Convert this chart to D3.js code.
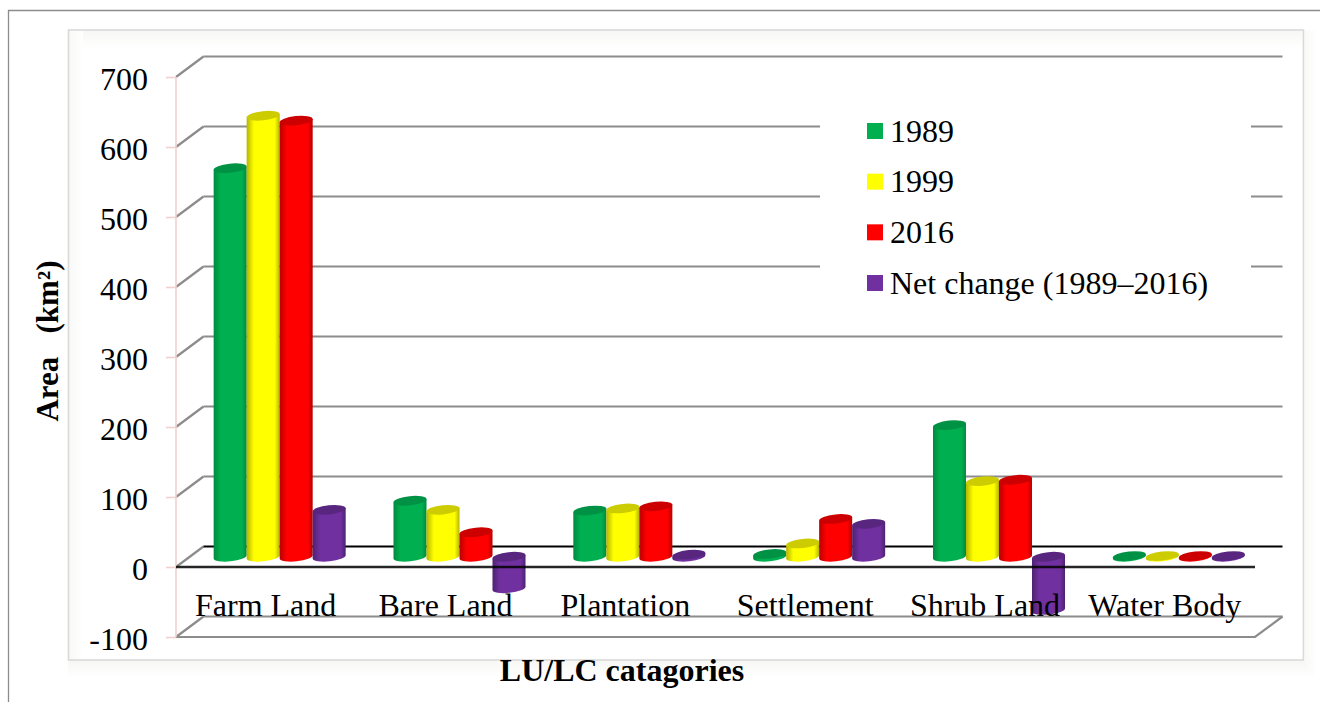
<!DOCTYPE html>
<html><head><meta charset="utf-8">
<script src="https://cdnjs.cloudflare.com/ajax/libs/d3/7.8.5/d3.min.js"></script>
<style>html,body{margin:0;padding:0;background:#fff}svg{display:block}text{font-family:"Liberation Serif","Times New Roman",serif;fill:#000}</style>
</head><body><svg id="c" width="1320" height="702"></svg>
<script>
const categories=["Farm Land","Bare Land","Plantation","Settlement","Shrub Land","Water Body"];
const seriesNames=["1989","1999","2016","Net change (1989–2016)"];
const values1989=[555,80,66,4,188,1];
const values1999=[630,67,69,19,108,1];
const values2016=[623,35,72,54,110,1];
const valuesNet=[67,-45,3,47,-76,1];
const seriesValues=[values1989,values1999,values2016,valuesNet];
const colors=["#00b050","#ffff00","#ff0000","#7030a0"];
const edgeColors=["#008a3e","#b5b500","#b80000","#4e2270"];
const capColors=["#009244","#cccc00","#cc0000","#59267f"];
const yTicks=[-100,0,100,200,300,400,500,600,700];

const svg=d3.select("#c");
const defs=svg.append("defs");
function fade(id,x2,y2,from){const g=defs.append("linearGradient").attr("id",id).attr("x1",0).attr("y1",0).attr("x2",x2).attr("y2",y2);
 g.append("stop").attr("offset",0).attr("stop-color",from);g.append("stop").attr("offset",1).attr("stop-color","#fff");}
fade("fadeD",0,1,"#f7f7f4");fade("fadeR",1,0,"#f9f9f7");
colors.forEach((c,i)=>{const g=defs.append("linearGradient").attr("id","bar"+i);
 [[0,edgeColors[i]],[.22,c],[.85,c],[1,edgeColors[i]]].forEach(s=>g.append("stop").attr("offset",s[0]).attr("stop-color",s[1]));});

// page frame and panel
svg.append("path").attr("d","M8.5,702V10.5H1320").attr("fill","none").attr("stroke","#8c8c8c").attr("stroke-width",1.3);
svg.append("rect").attr("x",68).attr("y",661).attr("width",1246).attr("height",16).attr("fill","url(#fadeD)");
svg.append("rect").attr("x",1305).attr("y",30).attr("width",12).attr("height",640).attr("fill","url(#fadeR)");
svg.append("rect").attr("x",69).attr("y",31).attr("width",1234).attr("height",17).attr("fill","url(#fadeD)");
svg.append("rect").attr("x",69).attr("y",31).attr("width",14).attr("height",628).attr("fill","url(#fadeR)");
svg.append("rect").attr("x",68.5).attr("y",30).attr("width",1235).attr("height",630).attr("fill","none").attr("stroke","#d9d9d9").attr("stroke-width",1.6);

const left=176,right=1255,dx=27.5,dy=-20.5;
const y=d3.scaleLinear().domain([-100,700]).range([637,77]);
const x0=d3.scaleBand().domain(categories).range([left+dx/2,right+dx/2]);
const x1=d3.scaleBand().domain(d3.range(4)).range([0,132]);
const groupPad=(x0.bandwidth()-132)/2;
const midY=v=>y(v)+dy/2;

// back wall gridlines and side walls
const grid=svg.append("g").attr("fill","none").attr("stroke-width",2.2);
yTicks.forEach(t=>{
 const col=t===0?"#000":"#8c8c8c";
 grid.append("path").attr("stroke","#8c8c8c").attr("d",`M${left},${y(t)}L${left+dx},${y(t)+dy}`);
 grid.append("line").attr("x1",left+dx).attr("x2",right+dx).attr("y1",y(t)+dy).attr("y2",y(t)+dy).attr("stroke",col);
});
grid.append("path").attr("stroke","#8c8c8c").attr("d",`M${left},${y(-100)}L${right},${y(-100)}L${right+dx},${y(-100)+dy}`);

// legend background masks the gridlines
svg.append("rect").attr("x",820).attr("y",105).attr("width",431).attr("height",195).attr("fill","#fff");

// value axis
const axis=svg.append("g").attr("transform",`translate(${left},0)`).call(d3.axisLeft(y).tickValues(yTicks).tickSize(10).tickPadding(18).tickFormat(d3.format("d")));
axis.selectAll("path,line").attr("stroke","#f3d0d0").attr("stroke-width",1.6);
axis.select(".domain").attr("d",`M0,${y(700)}V${y(-100)}`);
axis.selectAll("text").attr("font-size",32).attr("font-family","Liberation Serif").attr("fill","#000").attr("dy","0.38em").text(d=>String(d));

// bars
const rx=16.6,ry=4.6,tiltDeg=-6,tilt=tiltDeg*Math.PI/180,ex=rx*Math.cos(tilt),ey=rx*Math.sin(tilt);
categories.forEach((c,ci)=>{
 seriesValues.forEach((vals,si)=>{
  const v=vals[ci],cx=x0(c)+groupPad+x1(si)+x1.bandwidth()/2;
  const top=midY(Math.max(v,0)),bot=midY(Math.min(v,0));
  const g=svg.append("g");
  g.append("path").attr("fill",`url(#bar${si})`).attr("d",
   `M${cx-ex},${top-ey}L${cx-ex},${bot-ey}A${rx},${ry} ${tiltDeg} 0 0 ${cx+ex},${bot+ey}L${cx+ex},${top+ey}Z`);
  g.append("ellipse").attr("cx",cx).attr("cy",top).attr("rx",rx).attr("ry",ry).attr("fill",capColors[si]).attr("transform",`rotate(${tiltDeg} ${cx} ${top})`);
 });
});

// front zero line
svg.append("line").attr("x1",left).attr("x2",right).attr("y1",y(0)).attr("y2",y(0)).attr("stroke","#000").attr("stroke-width",2.6).attr("stroke-opacity",.85);

// category labels
svg.append("g").selectAll("text").data(categories).join("text")
 .attr("x",d=>x0(d)+x0.bandwidth()/2-14).attr("y",616).attr("text-anchor","middle").attr("font-size",32).text(d=>d);

// axis titles
svg.append("text").attr("x",622).attr("y",681).attr("text-anchor","middle").attr("font-size",32).attr("font-weight","bold").text("LU/LC catagories");
svg.append("text").attr("transform","translate(58,341) rotate(-90)").attr("text-anchor","middle").attr("font-size",31).attr("font-weight","bold").style("white-space","pre").text("Area   (km²)");

// legend
const legendY=d3.scalePoint().domain(seriesNames).range([131,283]);
const lg=svg.append("g").selectAll("g").data(seriesNames).join("g");
lg.append("rect").attr("x",867).attr("y",d=>legendY(d)-8).attr("width",16).attr("height",16).attr("fill",(d,i)=>colors[i]);
lg.append("text").attr("x",890).attr("y",d=>legendY(d)+10.5).attr("font-size",32).text(d=>d);
</script></body></html>
